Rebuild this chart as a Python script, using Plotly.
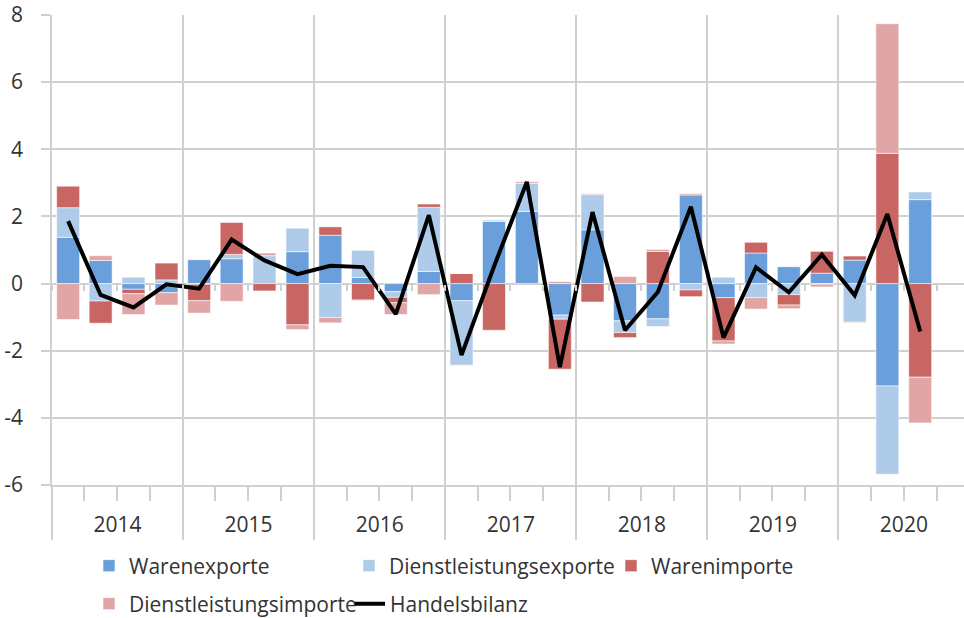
import plotly.graph_objects as go

# ---------------- data ----------------
years = ["2014", "2015", "2016", "2017", "2018", "2019", "2020"]
quarter_starts = ["01-01", "04-01", "07-01", "10-01"]
periods = [f"{y}-{q}" for y in years for q in quarter_starts][:27]   # 2014 Q1 ... 2020 Q3

warenexporte = [1.38, 0.69, -0.17, -0.27, 0.71, 0.74, 0.00, 0.95,
                1.44, 0.18, -0.24, 0.36, -0.51, 1.85, 2.15, -0.94,
                1.60, -1.11, -1.05, 2.64, -0.42, 0.91, 0.50, 0.31,
                0.70, -3.05, 2.50]
dienstleistungsexporte = [0.88, -0.52, 0.19, 0.11, -0.02, 0.13, 0.83, 0.70,
                          -1.01, 0.81, -0.17, 1.91, -1.92, 0.05, 0.83, -0.12,
                          1.05, -0.35, -0.23, -0.19, 0.19, -0.42, -0.33, -0.02,
                          -1.15, -2.63, 0.23]
warenimporte = [0.64, -0.66, -0.13, 0.50, -0.49, 0.95, -0.22, -1.23,
                0.25, -0.49, -0.16, 0.10, 0.30, -1.39, 0.00, -1.49,
                -0.55, -0.15, 0.96, -0.20, -1.29, 0.32, -0.31, 0.65,
                0.12, 3.88, -2.79]
dienstleistungsimporte = [-1.07, 0.14, -0.62, -0.37, -0.37, -0.53, 0.08, -0.14,
                          -0.16, -0.02, -0.35, -0.33, 0.00, 0.00, 0.05, 0.06,
                          0.03, 0.21, 0.06, 0.04, -0.09, -0.34, -0.11, -0.08,
                          -0.02, 3.86, -1.36]
handelsbilanz = [1.86, -0.34, -0.71, -0.02, -0.15, 1.31, 0.69, 0.28,
                 0.53, 0.49, -0.91, 2.04, -2.13, 0.51, 3.03, -2.49,
                 2.13, -1.39, -0.25, 2.29, -1.61, 0.48, -0.26, 0.86,
                 -0.35, 2.07, -1.43]

y_ticks = [-6, -4, -2, 0, 2, 4, 6, 8]
y_ticktext = ["-6", "-4", "-2", "0", "2", "4", "6", "8"]

# ---------------- styling ----------------
FONT = "Open Sans"
FS = 21
TXT = "#333333"
GRID = "#D0D0D0"
C_WE = "#6A9FDB"
C_DE = "#AECBE9"
C_WI = "#C86663"
C_DI = "#E1A5A5"

x_range = ["2014-01-01", "2020-12-16"]
QUARTER_MS = 365.25 / 4 * 86400000
BAR_W = 0.7 * QUARTER_MS

fig = go.Figure()

bar_specs = [
    ("Warenexporte", warenexporte, C_WE, "legend"),
    ("Dienstleistungsexporte", dienstleistungsexporte, C_DE, "legend2"),
    ("Warenimporte", warenimporte, C_WI, "legend3"),
    ("Dienstleistungsimporte", dienstleistungsimporte, C_DI, "legend4"),
]
for name, vals, col, lg in bar_specs:
    fig.add_trace(go.Bar(
        x=periods, y=vals, name=name, legend=lg,
        xperiod="M3", xperiodalignment="middle",
        marker=dict(color=col, line=dict(color="rgba(255,255,255,0.55)", width=1)),
        width=BAR_W,
    ))

fig.add_trace(go.Scatter(
    x=periods, y=handelsbilanz, name="Handelsbilanz", legend="legend5",
    xaxis="x2", yaxis="y",
    xperiod="M3", xperiodalignment="middle",
    mode="lines", line=dict(color="black", width=4),
))

def legend_cfg(text_left, yc_px):
    return dict(
        xref="container", yref="container",
        x=(text_left - 40) / 964, y=(618 - yc_px) / 618,
        xanchor="left", yanchor="middle",
        orientation="h", bgcolor="rgba(0,0,0,0)",
        font=dict(family=FONT, size=FS, color=TXT),
        itemwidth=30,
    )

fig.update_layout(
    width=964, height=618,
    margin=dict(l=52, r=0, t=15, b=133, autoexpand=False),
    plot_bgcolor="white", paper_bgcolor="white",
    barmode="relative",
    font=dict(family=FONT, size=FS, color=TXT),
    showlegend=True,
    legend=legend_cfg(129, 566),
    legend2=legend_cfg(389, 566),
    legend3=legend_cfg(651, 566),
    legend4=legend_cfg(129, 604),
    legend5=legend_cfg(390, 604),
    yaxis=dict(
        range=[-6, 8], tickmode="array", tickvals=y_ticks, ticktext=y_ticktext,
        automargin=False,
        showgrid=True, gridcolor=GRID, gridwidth=1.5,
        zeroline=True, zerolinecolor=GRID, zerolinewidth=1.5,
        showline=True, linecolor=GRID, linewidth=1.5,
        ticks="outside", ticklen=9, tickcolor=GRID, tickwidth=1.5,
        ticklabelstandoff=14,
        tickfont=dict(family=FONT, size=FS, color=TXT),
    ),
    xaxis=dict(
        type="date", range=x_range, automargin=False,
        dtick="M12", tick0="2014-01-01", tickformat="%Y",
        ticklabelmode="period", ticklabelstandoff=-33,
        tickfont=dict(family=FONT, size=FS, color=TXT),
        showgrid=True, gridcolor=GRID, gridwidth=1.5,
        zeroline=False,
        showline=True, linecolor=GRID, linewidth=1.5,
        ticks="outside", ticklen=53, tickcolor=GRID, tickwidth=1.5,
        minor=dict(ticks="outside", ticklen=14, tickcolor=GRID, tickwidth=1.5,
                   dtick="M3", showgrid=False),
    ),
    xaxis2=dict(
        type="date", overlaying="x", anchor="free", position=6 / 14,
        range=x_range, automargin=False,
        dtick="M3", tick0="2014-01-01", showticklabels=False,
        showgrid=False, zeroline=False, showline=False,
        ticks="outside", ticklen=6, tickcolor=GRID, tickwidth=1.5,
    ),
)

fig.write_html("out.html", config={"displayModeBar": False},
               post_script="document.body.style.margin='0';")
